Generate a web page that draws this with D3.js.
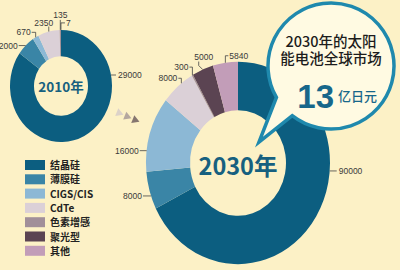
<!DOCTYPE html>
<html lang="zh">
<head>
<meta charset="utf-8">
<title>太阳能电池全球市场</title>
<script src="https://d3js.org/d3.v7.min.js"></script>
<style>
  html, body { margin: 0; padding: 0; background: #fcf1c6; }
  svg { display: block; }
  .num { font-family: "Liberation Sans", Arial, sans-serif; font-size: 8.5px; fill: #3a3a3a; }
  .cjk { font-family: "Noto Sans CJK SC", sans-serif; }
</style>
</head>
<body>
<svg width="400" height="270"></svg>
<script>
// data
var categories = ["结晶硅", "薄膜硅", "CIGS/CIS", "CdTe", "色素增感", "聚光型", "其他"];
var values2010 = [29000, 2000, 670, 2350, 135, 7, 0];
var values2030 = [90000, 8000, 16000, 8000, 300, 5000, 5840];
var colors = ["#0c5e80", "#3a85a6", "#8cb8d5", "#dbd0d7", "#a18f99", "#5b4452", "#c29db8"];
var marketText = ["2030年的太阳", "能电池全球市场"];
var marketValue = "13", marketUnit = "亿日元";

var w = 400, h = 270;
var svg = d3.select("svg");
svg.append("rect").attr("width", w).attr("height", h).attr("fill", "#fcf1c6");

var pie = d3.pie().sort(null).value(function(d) { return d; });
var k = 1.1; // rings are a bit taller than wide

// label leader layout: ang = anchor angle override (deg), pts = elbow offsets, t = text offset
var lay2010 = [
  { ang: 78.7, pts: [[5, 0]], t: [7, 3], a: "start" },
  { pts: [[-7, 0]], t: [-8, 3], a: "end" },
  { pts: [[0, -5], [-4, -5]], t: [-5, -2], a: "end" },
  { pts: [[0, -5]], t: [-5, -6], a: "middle" },
  { pts: [[0, -10]], t: [0, -12], a: "middle" },
  { pts: [[0, -7], [4, -7]], t: [5, -4], a: "start" }
];
var lay2030 = [
  { ang: 94.5, pts: [[7, 0]], t: [9, 3], a: "start" },
  { ang: 251, pts: [[-8, 0]], t: [-9, 3], a: "end" },
  { ang: 277, pts: [[-7, 0]], t: [-8, 3], a: "end" },
  { ang: 322, pts: [[0, -5], [-3, -5]], t: [-4, -2], a: "end" },
  { pts: [[0, -8], [-3, -8]], t: [-4, -5], a: "end" },
  { pts: [[-4, -4], [-4, -8]], t: [1, -10], a: "middle" },
  { pts: [[0, -7], [3, -7]], t: [4, -4], a: "start" }
];

function donut(values, cx, cy, r0, r1, lay, title, titleSize, titleDy) {
  var g = svg.append("g");
  var ring = g.append("g").attr("transform", "translate(" + cx + "," + cy + ") scale(1," + k + ")");
  var arcs = pie(values);
  var arc = d3.arc().innerRadius(r0).outerRadius(r1);
  ring.selectAll("path").data(arcs).enter().append("path")
    .attr("d", arc)
    .attr("fill", function(d, i) { return colors[i]; });

  arcs.forEach(function(d, i) {
    if (!d.value || !lay[i]) return;
    var L = lay[i];
    var a = L.ang != null ? L.ang * Math.PI / 180 : (d.startAngle + d.endAngle) / 2;
    var ax = cx + r1 * Math.sin(a), ay = cy - k * r1 * Math.cos(a);
    var pts = [[ax, ay]].concat(L.pts.map(function(p) { return [ax + p[0], ay + p[1]]; }));
    g.append("path").attr("d", d3.line()(pts))
      .attr("fill", "none").attr("stroke", "#444").attr("stroke-width", 0.8);
    g.append("text").attr("class", "num")
      .attr("x", ax + L.t[0]).attr("y", ay + L.t[1])
      .attr("text-anchor", L.a)
      .text(d.value);
  });

  g.append("text").attr("class", "cjk")
    .attr("x", cx).attr("y", cy + titleDy)
    .attr("text-anchor", "middle")
    .attr("font-size", titleSize).attr("font-weight", 700)
    .attr("fill", "#16607f")
    .text(title);
}

donut(values2010, 61, 86, 27, 51, lay2010, "2010年", 13.5, 6);
donut(values2030, 238, 163, 48, 92, lay2030, "2030年", 23.5, 12);

// little arrows between the rings
var arrows = [[119, 113, "#dcd2c9"], [127, 116.5, "#b4a79f"], [135, 120, "#857670"]];
svg.selectAll(".arw").data(arrows).enter().append("path")
  .attr("class", "arw")
  .attr("d", d3.symbol(d3.symbolTriangle).size(30))
  .attr("transform", function(d) { return "translate(" + d[0] + "," + d[1] + ") rotate(112)"; })
  .attr("fill", function(d) { return d[2]; });

// legend
var legend = svg.append("g").attr("transform", "translate(25,160)");
var row = legend.selectAll("g").data(categories).enter().append("g")
  .attr("transform", function(d, i) { return "translate(0," + (i * 14.3) + ")"; });
row.append("rect").attr("width", 20).attr("height", 10)
  .attr("fill", function(d, i) { return colors[i]; });
row.append("text").attr("class", "cjk")
  .attr("x", 25).attr("y", 9)
  .attr("font-size", 10).attr("font-weight", 700).attr("fill", "#222")
  .text(function(d) { return d; });

// speech bubble
var bx = 331, by = 66, br = 63;
function pt(deg) { var t = deg * Math.PI / 180; return [bx + br * Math.cos(t), by + br * Math.sin(t)]; }
var b1 = pt(128), b2 = pt(150), tip = [259, 142];
svg.append("path")
  .attr("d", "M" + b1 + "A" + br + "," + br + " 0 1 0 " + b2 + "L" + tip + "Z")
  .attr("fill", "#fffae2").attr("stroke", "#1f89ad").attr("stroke-width", 3.5)
  .attr("stroke-linejoin", "miter");

var bt = svg.append("g").attr("class", "cjk");
bt.selectAll(".ln").data(marketText).enter().append("text")
  .attr("class", "ln")
  .attr("x", bx).attr("y", function(d, i) { return 47 + i * 16.5; })
  .attr("text-anchor", "middle").attr("font-size", 14.5).attr("font-weight", 500)
  .attr("fill", "#1c1c1c")
  .text(function(d) { return d; });
bt.append("text").attr("x", 334).attr("y", 108)
  .attr("text-anchor", "end")
  .attr("font-family", "Liberation Sans, Arial, sans-serif")
  .attr("font-size", 33).attr("font-weight", 700).attr("fill", "#17678a")
  .text(marketValue);
bt.append("text").attr("x", 338).attr("y", 101)
  .attr("font-size", 13).attr("font-weight", 500).attr("fill", "#17678a")
  .text(marketUnit);
</script>
</body>
</html>
